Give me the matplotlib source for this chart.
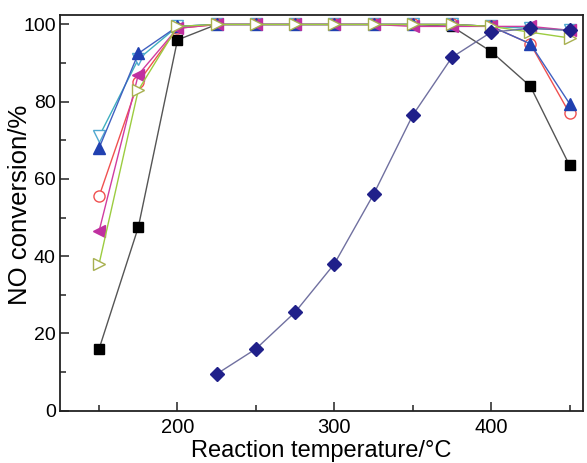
import matplotlib
matplotlib.use("Agg")
import matplotlib.pyplot as plt
from matplotlib.ticker import MultipleLocator

plt.rcParams['font.family'] = ['Liberation Sans', 'DejaVu Sans']

temps = [150, 175, 200, 225, 250, 275, 300, 325, 350, 375, 400, 425, 450]
temps_d = [225, 250, 275, 300, 325, 350, 375, 400, 425, 450]

s_square = [16, 47.5, 96, 100, 100, 100, 100, 100, 100, 99.5, 93, 84, 63.5]
s_diamond = [9.5, 16, 25.5, 38, 56, 76.5, 91.5, 98, 99, 98.5]
s_tri_up = [68, 92.5, 99.5, 100, 100, 100, 100, 100, 100, 100, 99.5, 95, 79.5]
s_tri_down = [71, 91, 99.5, 100, 100, 100, 100, 100, 100, 100, 99.5, 99, 98.5]
s_circle = [55.5, 85, 99, 100, 100, 100, 100, 100, 100, 100, 99.5, 95, 77]
s_tri_left = [46.5, 87, 99, 100, 100, 100, 100, 100, 99.5, 99.5, 99.5, 99.5, 98.5]
s_tri_right = [38, 83, 99.5, 100, 100, 100, 100, 100, 100, 100, 99.5, 98, 96.5]

fig = plt.figure(figsize=(5.87, 4.63), dpi=100)
ax = fig.add_axes([0.102, 0.113, 0.891, 0.855])

ax.plot(temps, s_square, color='#555555', lw=1.0, marker='s', ms=7,
        mfc='black', mec='black', zorder=3)
ax.plot(temps, s_tri_down, color='#40b0c0', lw=1.0, marker='v', ms=9,
        mfc='white', mec='#50a8d0', zorder=3)
ax.plot(temps, s_circle, color='#f05050', lw=1.0, marker='o', ms=8,
        mfc='white', mec='#f05050', zorder=3)
ax.plot(temps, s_tri_up, color='#4060c0', lw=1.0, marker='^', ms=9,
        mfc='#2040b0', mec='#2040b0', zorder=3)
ax.plot(temps, s_tri_left, color='#d03ca0', lw=1.0, marker='<', ms=9,
        mfc='#c030a0', mec='#c030a0', zorder=3)
ax.plot(temps, s_tri_right, color='#9ccc40', lw=1.0, marker='>', ms=9,
        mfc='white', mec='#a8b050', zorder=3)
ax.plot(temps_d, s_diamond, color='#7070a0', lw=1.0, marker='D', ms=7,
        mfc='#20208a', mec='#20208a', zorder=4)

ax.set_xlim(125, 458.5)
ax.set_ylim(0, 102.5)
ax.xaxis.set_major_locator(MultipleLocator(100))
ax.xaxis.set_minor_locator(MultipleLocator(50))
ax.yaxis.set_major_locator(MultipleLocator(20))
ax.yaxis.set_minor_locator(MultipleLocator(10))
ax.tick_params(which='both', direction='in', top=False, right=False,
               width=1.1, color='#222222')
ax.tick_params(axis='x', labelsize=14.5)
ax.tick_params(axis='y', labelsize=14)
ax.tick_params(which='major', length=6.5)
ax.tick_params(which='minor', length=4)
ax.tick_params(axis='x', which='major', pad=5)
ax.tick_params(axis='y', which='major', pad=3)
for sp in ax.spines.values():
    sp.set_linewidth(1.3)
    sp.set_color('#222222')

fig.text(20 / 587, 1 - 205 / 463, 'NO conversion/%', fontsize=18.5,
         rotation=90, ha='center', va='center')
fig.text(0.548, 6 / 463, 'Reaction temperature/\u00b0C', fontsize=17,
         ha='center', va='baseline')

fig.savefig('out.png', dpi=100)
